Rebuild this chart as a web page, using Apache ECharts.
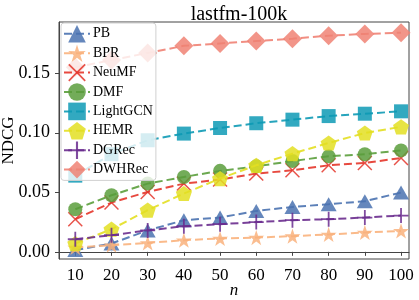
<!DOCTYPE html>
<html><head><meta charset="utf-8">
<script src="https://cdn.jsdelivr.net/npm/echarts@6/dist/echarts.min.js"></script>
<style>html,body{margin:0;padding:0;background:#fff}#c{width:419px;height:300px}</style>
</head><body><div id="c"></div>
<script>
const categories = [10, 20, 30, 40, 50, 60, 70, 80, 90, 100];
const seriesNames = ['PB', 'BPR', 'NeuMF', 'DMF', 'LightGCN', 'HEMR', 'DGRec', 'DWHRec'];
const PB       = [0.0015, 0.007, 0.018, 0.0266, 0.0288, 0.0344, 0.0377, 0.040, 0.0425, 0.0498];
const BPR      = [0.0037, 0.0056, 0.0075, 0.0098, 0.0112, 0.012, 0.0132, 0.0146, 0.0163, 0.0176];
const NeuMF    = [0.0274, 0.0414, 0.0503, 0.0573, 0.0607, 0.0657, 0.0685, 0.0727, 0.0746, 0.0788];
const DMF      = [0.0358, 0.0475, 0.0573, 0.0629, 0.068, 0.0718, 0.0763, 0.0802, 0.082, 0.0852];
const LightGCN = [0.064, 0.082, 0.0937, 0.0993, 0.104, 0.108, 0.111, 0.114, 0.116, 0.118];
const HEMR     = [0.007, 0.019, 0.035, 0.049, 0.0615, 0.0727, 0.0825, 0.0914, 0.0998, 0.105];
const DGRec    = [0.0106, 0.014, 0.018, 0.0215, 0.0232, 0.025, 0.0266, 0.0274, 0.0288, 0.0305];
const DWHRec   = [0.155, 0.161, 0.167, 0.173, 0.175, 0.177, 0.179, 0.1815, 0.183, 0.184];
const yTicks = [0, 0.05, 0.10, 0.15];
const xTicks = [10, 20, 30, 40, 50, 60, 70, 80, 90, 100];

const allData = [PB, BPR, NeuMF, DMF, LightGCN, HEMR, DGRec, DWHRec];
const colors = ['#4a72b0', '#f9b27d', '#e4352a', '#5b9e3c', '#0e9ab5', '#e3df22', '#6a2c8e', '#f08274'];
const STAR = 'path://M50,0 L61.17,34.63 L97.55,34.55 L68.07,55.87 L79.39,90.45 L50,69 L20.61,90.45 L31.93,55.87 L2.45,34.55 L38.83,34.63 Z';
const XMARK = 'path://M0,0.7 L0.7,0 L5,4.3 L9.3,0 L10,0.7 L5.7,5 L10,9.3 L9.3,10 L5,5.7 L0.7,10 L0,9.3 L4.3,5 Z';
const PLUS = 'path://M4.4,0H5.6V4.4H10V5.6H5.6V10H4.4V5.6H0V4.4H4.4Z';
const PENT = 'path://M50,0 L100,36.3 L80.9,95.1 L19.1,95.1 L0,36.3 Z';
const symbols = ['triangle', STAR, XMARK, 'circle', 'rect', PENT, PLUS, 'diamond'];
const sizes = [[16, 14], 16, 15, 14, 14, 16, 15, 19];

const FONT = '"Liberation Serif", "DejaVu Serif", serif';
const series = seriesNames.map((name, i) => ({
  name, type: 'line',
  data: categories.map((c, j) => [c, allData[i][j]]),
  symbol: symbols[i], symbolSize: sizes[i], symbolKeepAspect: true,
  color: colors[i],
  itemStyle: { color: colors[i], opacity: 0.85, borderWidth: 0 },
  lineStyle: { color: colors[i], width: 2, type: [8, 4], opacity: 0.9 },
  emphasis: { disabled: true },
  animation: false, z: 2 + i * 0.01
}));

const chart = echarts.init(document.getElementById('c'), null, { renderer: 'canvas' });
chart.setOption({
  animation: false,
  title: { text: 'lastfm-100k', left: 234, top: 0, textAlign: 'center',
    textStyle: { fontFamily: FONT, fontSize: 20, fontWeight: 'normal', color: '#000' } },
  grid: { left: 59, right: 10, top: 22, bottom: 41, show: true, borderColor: '#444', borderWidth: 1,
    backgroundColor: 'transparent', containLabel: false, outerBoundsMode: 'none' },
  legend: {
    orient: 'vertical', left: 61, top: 23, data: seriesNames,
    itemWidth: 26, itemHeight: 22, itemGap: 1.8, padding: [2, 3, 2, 2],
    backgroundColor: 'rgba(255,255,255,0.8)', borderColor: '#d0d0d0', borderWidth: 1, borderRadius: 3,
    textStyle: { fontFamily: FONT, fontSize: 14, color: '#000', padding: [0, 0, 0, -2] },
    selectedMode: false
  },
  xAxis: {
    type: 'value', min: 5.5, max: 102.2,
    name: 'n', nameLocation: 'middle', nameGap: 23, nameMoveOverlap: false,
    nameTextStyle: { fontFamily: FONT, fontSize: 17, fontStyle: 'italic', color: '#000' },
    axisLine: { show: true, lineStyle: { color: '#444', width: 1 } },
    axisTick: { show: true, length: 4, customValues: xTicks, lineStyle: { color: '#444' } },
    axisLabel: { customValues: xTicks, fontFamily: FONT, fontSize: 17, color: '#000', margin: 8 },
    splitLine: { show: false }
  },
  yAxis: {
    type: 'value', min: -0.006, max: 0.193,
    name: 'NDCG', nameLocation: 'middle', nameGap: 42, nameRotate: 90, nameMoveOverlap: false,
    nameTextStyle: { fontFamily: FONT, fontSize: 17, color: '#000' },
    axisLine: { show: true, lineStyle: { color: '#444', width: 1 } },
    axisTick: { show: true, length: 4, customValues: yTicks, lineStyle: { color: '#444' } },
    axisLabel: { customValues: yTicks, fontFamily: FONT, fontSize: 18, color: '#000', margin: 9,
      formatter: v => v.toFixed(2) },
    splitLine: { show: false }
  },
  series
});
</script></body></html>
